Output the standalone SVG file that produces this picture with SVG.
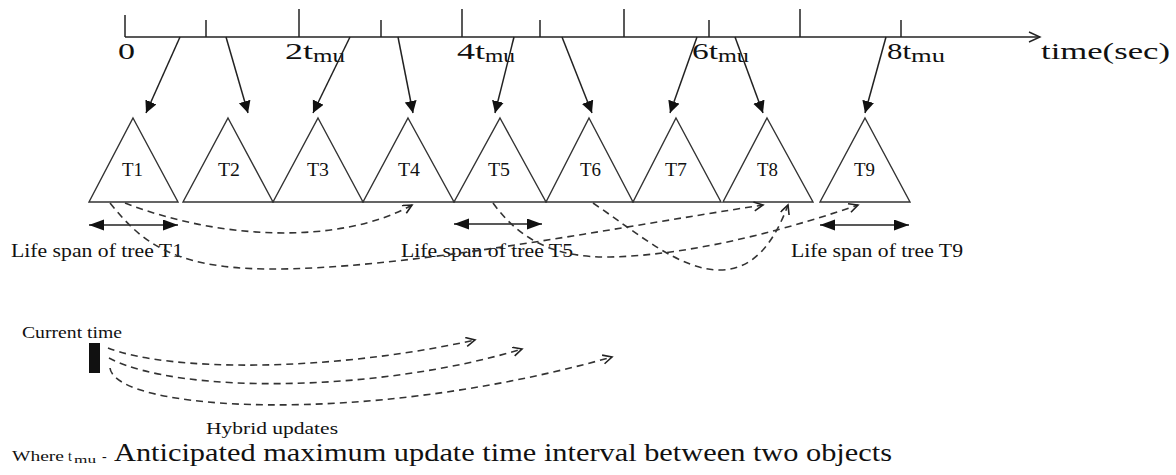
<svg xmlns="http://www.w3.org/2000/svg" width="1176" height="475" viewBox="0 0 1176 475">
<style>
  .ln{stroke:#222;stroke-width:1.5;fill:none}
  .tri{stroke:#333;stroke-width:1.4;fill:#fff}
  .dash{stroke:#333;stroke-width:1.6;fill:none;stroke-dasharray:7 5}
  .t{font-family:"Liberation Serif","Times New Roman",serif;fill:#111}
  .ax{font-size:23px}
  .sub{font-size:18px}
  .tl{font-size:18px}
  .ls{font-size:18px}
  .sm{font-size:16px}
</style>
<defs>
  <marker id="fa" markerUnits="userSpaceOnUse" markerWidth="13" markerHeight="13" refX="12" refY="6" orient="auto">
    <path d="M0,0 L12,6 L0,12 z" fill="#111"/>
  </marker>
  <marker id="la" markerUnits="userSpaceOnUse" markerWidth="16" markerHeight="12" refX="15" refY="5.5" orient="auto-start-reverse">
    <path d="M0,0 L15,5.5 L0,11 z" fill="#111"/>
  </marker>
  <marker id="oa" markerUnits="userSpaceOnUse" markerWidth="12" markerHeight="12" refX="10" refY="5" orient="auto">
    <path d="M1,0.5 L10,5 L1,9.5" fill="none" stroke="#222" stroke-width="1.6"/>
  </marker>
  <marker id="xa" markerUnits="userSpaceOnUse" markerWidth="14" markerHeight="12" refX="12" refY="6" orient="auto">
    <path d="M1,1 L12,6 L1,11" fill="none" stroke="#222" stroke-width="1.4"/>
  </marker>
</defs>

<g id="axis">
  <line class="ln" x1="125" y1="37" x2="1040" y2="37" marker-end="url(#xa)"/>
  <line class="ln" x1="125" y1="15" x2="125" y2="37"/>
  <line class="ln" x1="206" y1="20" x2="206" y2="37"/>
  <line class="ln" x1="299" y1="9" x2="299" y2="37"/>
  <line class="ln" x1="381" y1="20" x2="381" y2="37"/>
  <line class="ln" x1="462" y1="9" x2="462" y2="37"/>
  <line class="ln" x1="540" y1="20" x2="540" y2="37"/>
  <line class="ln" x1="624" y1="9" x2="624" y2="37"/>
  <line class="ln" x1="709" y1="20" x2="709" y2="37"/>
  <line class="ln" x1="800" y1="9" x2="800" y2="37"/>
  <line class="ln" x1="901" y1="20" x2="901" y2="37"/>
  <text class="t ax" x="118" y="59" textLength="17" lengthAdjust="spacingAndGlyphs">0</text>
  <text class="t ax" x="285" y="59" textLength="28" lengthAdjust="spacingAndGlyphs">2t</text>
  <text class="t sub" x="313" y="62" textLength="32" lengthAdjust="spacingAndGlyphs">mu</text>
  <text class="t ax" x="457" y="59" textLength="28" lengthAdjust="spacingAndGlyphs">4t</text>
  <text class="t sub" x="485" y="62" textLength="30" lengthAdjust="spacingAndGlyphs">mu</text>
  <text class="t ax" x="692" y="59" textLength="26" lengthAdjust="spacingAndGlyphs">6t</text>
  <text class="t sub" x="718" y="62" textLength="31" lengthAdjust="spacingAndGlyphs">mu</text>
  <text class="t ax" x="887" y="59" textLength="24" lengthAdjust="spacingAndGlyphs">8t</text>
  <text class="t sub" x="911" y="62" textLength="34" lengthAdjust="spacingAndGlyphs">mu</text>
  <text class="t" font-size="24" x="1041" y="59" textLength="129" lengthAdjust="spacingAndGlyphs">time(sec)</text>
</g>

<g id="T1"><path class="tri" d="M133,118 L178,202 L89,202 z"/><text class="t tl" x="122" y="176" textLength="21" lengthAdjust="spacingAndGlyphs">T1</text></g>
<g id="T2"><path class="tri" d="M228,118 L273,202 L183,202 z"/><text class="t tl" x="218" y="176" textLength="22" lengthAdjust="spacingAndGlyphs">T2</text></g>
<g id="T3"><path class="tri" d="M318,118 L363,202 L273,202 z"/><text class="t tl" x="307" y="176" textLength="22" lengthAdjust="spacingAndGlyphs">T3</text></g>
<g id="T4"><path class="tri" d="M408,118 L454,202 L363,202 z"/><text class="t tl" x="398" y="176" textLength="22" lengthAdjust="spacingAndGlyphs">T4</text></g>
<g id="T5"><path class="tri" d="M500,118 L546,202 L454,202 z"/><text class="t tl" x="488" y="176" textLength="22" lengthAdjust="spacingAndGlyphs">T5</text></g>
<g id="T6"><path class="tri" d="M589,118 L633,202 L546,202 z"/><text class="t tl" x="580" y="176" textLength="21" lengthAdjust="spacingAndGlyphs">T6</text></g>
<g id="T7"><path class="tri" d="M676,118 L721,202 L633,202 z"/><text class="t tl" x="665" y="176" textLength="22" lengthAdjust="spacingAndGlyphs">T7</text></g>
<g id="T8"><path class="tri" d="M767,118 L813,202 L723,202 z"/><text class="t tl" x="757" y="176" textLength="21" lengthAdjust="spacingAndGlyphs">T8</text></g>
<g id="T9"><path class="tri" d="M865,118 L910,202 L820,202 z"/><text class="t tl" x="854" y="176" textLength="21" lengthAdjust="spacingAndGlyphs">T9</text></g>

<g id="lifespans">
  <line class="ln" x1="89" y1="225" x2="178" y2="225" marker-start="url(#la)" marker-end="url(#la)"/>
  <line class="ln" x1="454" y1="224" x2="542" y2="224" marker-start="url(#la)" marker-end="url(#la)"/>
  <line class="ln" x1="820" y1="225" x2="909" y2="225" marker-start="url(#la)" marker-end="url(#la)"/>
  <text class="t ls" x="11" y="257" textLength="172" lengthAdjust="spacingAndGlyphs">Life span of tree T1</text>
  <text class="t ls" x="401" y="257" textLength="172" lengthAdjust="spacingAndGlyphs">Life span of tree T5</text>
  <text class="t ls" x="791" y="257" textLength="172" lengthAdjust="spacingAndGlyphs">Life span of tree T9</text>
</g>

<g id="current">
  <rect x="89" y="343" width="11" height="30" fill="#111"/>
  <text class="t sm" x="22" y="338" textLength="100" lengthAdjust="spacingAndGlyphs">Current time</text>
  <text class="t sm" x="206" y="434" textLength="132" lengthAdjust="spacingAndGlyphs">Hybrid updates</text>
</g>

<g id="connectors">
  <line class="ln" x1="180" y1="37" x2="146" y2="113" marker-end="url(#fa)"/>
  <line class="ln" x1="226" y1="37" x2="248" y2="113" marker-end="url(#fa)"/>
  <line class="ln" x1="350" y1="37" x2="313" y2="113" marker-end="url(#fa)"/>
  <line class="ln" x1="398" y1="37" x2="413" y2="113" marker-end="url(#fa)"/>
  <line class="ln" x1="514" y1="37" x2="495" y2="113" marker-end="url(#fa)"/>
  <line class="ln" x1="562" y1="37" x2="592" y2="113" marker-end="url(#fa)"/>
  <line class="ln" x1="697" y1="37" x2="670" y2="113" marker-end="url(#fa)"/>
  <line class="ln" x1="735" y1="37" x2="763" y2="113" marker-end="url(#fa)"/>
  <line class="ln" x1="886" y1="37" x2="865" y2="113" marker-end="url(#fa)"/>

  <path class="dash" d="M125,203 C220,240 340,245 412,205" marker-end="url(#oa)"/>
  <path class="dash" d="M110,203 C140,240 170,268 267,269 C400,270 600,230 763,205" marker-end="url(#oa)"/>
  <path class="dash" d="M493,203 C520,240 555,258 610,257 C700,255 800,225 858,205" marker-end="url(#oa)"/>
  <path class="dash" d="M593,203 C640,235 680,270 720,270 C755,270 775,240 788,205" marker-end="url(#oa)"/>

  <path class="dash" d="M108,348 C170,372 330,372 475,340" marker-end="url(#oa)"/>
  <path class="dash" d="M109,358 C180,395 380,392 522,349" marker-end="url(#oa)"/>
  <path class="dash" d="M110,368 C115,410 360,428 612,357" marker-end="url(#oa)"/>
</g>

<g id="note">
  <text class="t" font-size="14" x="12" y="461" textLength="52" lengthAdjust="spacingAndGlyphs">Where</text>
  <text class="t" font-size="14" x="68" y="461">t</text>
  <text class="t" font-size="10" x="74" y="463" textLength="22" lengthAdjust="spacingAndGlyphs">mu</text>
  <text class="t" font-size="14" x="102" y="461">-</text>
  <text class="t" font-size="25" x="114" y="461" textLength="778" lengthAdjust="spacingAndGlyphs">Anticipated maximum update time interval between two objects</text>
</g>
</svg>
